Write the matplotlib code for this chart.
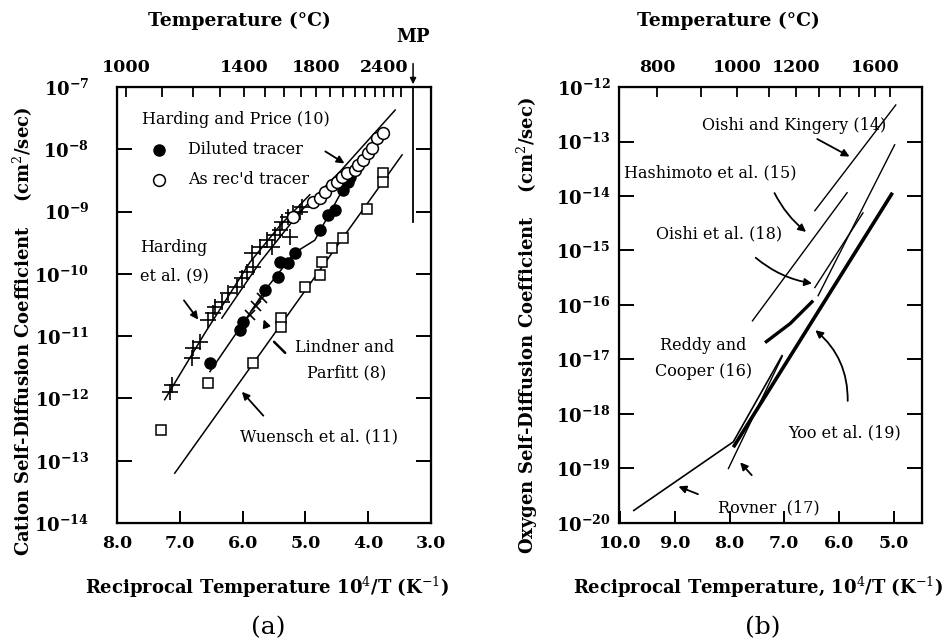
import numpy as np
import matplotlib
matplotlib.use('Agg')
import matplotlib.pyplot as plt
from matplotlib.ticker import NullLocator, FixedLocator, FixedFormatter

plt.rcParams['font.family'] = ['DejaVu Serif']
plt.rcParams['mathtext.fontset'] = 'dejavuserif'

# ---------------- Panel (a) data : x = 10^4/T (K^-1), log10 D (cm^2/s) -------------
h9_x = [7.16, 7.12, 6.81, 6.79, 6.68, 6.55, 6.47, 6.44, 6.33, 6.23, 6.09, 6.01, 5.93,
        5.83, 5.85, 5.72, 5.61, 5.53, 5.48, 5.40, 5.37, 5.28, 5.25, 5.20, 5.09, 5.05]
h9_logD = [-11.90, -11.78, -11.35, -11.19, -11.09, -10.74, -10.63, -10.53, -10.45, -10.31,
           -10.21, -10.07, -9.97, -9.89, -9.66, -9.57, -9.46, -9.57, -9.38, -9.30, -9.17,
           -9.09, -9.41, -9.02, -9.01, -8.93]
dil_x = [6.52, 6.04, 5.99, 5.64, 5.44, 5.40, 5.28, 5.17, 4.77, 4.64, 4.53, 4.40, 4.32, 4.29, 4.08]
dil_logD = [-11.43, -10.90, -10.77, -10.26, -10.05, -9.81, -9.83, -9.66, -9.30, -9.05,
            -8.97, -8.65, -8.52, -8.44, -8.17]
asr_x = [5.20, 4.88, 4.77, 4.69, 4.58, 4.50, 4.42, 4.34, 4.21, 4.16, 4.08, 4.00, 3.94, 3.86, 3.76]
asr_logD = [-9.09, -8.85, -8.78, -8.69, -8.57, -8.52, -8.44, -8.38, -8.33, -8.25, -8.17,
            -8.06, -7.98, -7.82, -7.74]
wu_x = [7.30, 6.55, 5.83, 5.39, 5.39, 5.01, 4.77, 4.74, 4.58, 4.40, 4.02, 3.76, 3.76]
wu_logD = [-12.51, -11.75, -11.43, -10.71, -10.85, -10.21, -10.02, -9.81, -9.58, -9.42,
           -8.96, -8.38, -8.52]
lp_x = [5.88, 5.79, 5.69]
lp_logD = [-10.66, -10.52, -10.39]

h9_line_x = [7.24, 6.60, 5.88, 5.40, 4.93]
h9_line_logD = [-12.02, -10.95, -9.81, -9.22, -8.73]
asr_line_x = [6.33, 5.72, 5.09, 4.45, 3.57]
asr_line_logD = [-10.71, -9.81, -9.01, -8.36, -7.37]
dil_line_x = [6.52, 5.99, 5.64, 5.17, 4.85, 4.45, 4.05]
dil_line_logD = [-11.57, -10.79, -10.26, -9.66, -9.46, -8.73, -8.04]
wu_line_x = [7.08, 3.46]
wu_line_logD = [-13.20, -8.09]
mp_x = 3.29
mp_logD = [-7.0, -9.17]

xa_ticks = [8.0, 7.0, 6.0, 5.0, 4.0, 3.0]
ya_exp = [-7, -8, -9, -10, -11, -12, -13, -14]
ta_ticks_C = [1000, 1100, 1200, 1300, 1400, 1500, 1600, 1700, 1800, 1900, 2000,
              2100, 2200, 2300, 2400, 2500, 2600]
ta_labels_C = [1000, 1400, 1800, 2400]

# ---------------- Panel (b) data -------------
ok_x = [6.44, 4.96]
ok_logD = [-14.27, -12.33]
hash_x = [7.58, 5.85]
hash_logD = [-16.29, -13.94]
o18_x = [6.44, 5.56]
o18_logD = [-15.68, -14.31]
rc_hi_x = [6.38, 4.98]
rc_hi_logD = [-15.83, -13.06]
rc_x = [7.35, 6.89, 6.47]
rc_logD = [-16.69, -16.34, -15.92]
yoo_x = [7.93, 5.02]
yoo_logD = [-18.61, -13.94]
rov_x = [9.75, 7.93, 7.04]
rov_logD = [-19.77, -18.51, -16.93]
rov2_x = [8.02, 7.04]
rov2_logD = [-19.00, -16.95]

xb_ticks = [10.0, 9.0, 8.0, 7.0, 6.0, 5.0]
yb_exp = [-12, -13, -14, -15, -16, -17, -18, -19, -20]
tb_ticks_C = [800, 900, 1000, 1100, 1200, 1300, 1400, 1500, 1600, 1700]
tb_labels_C = [800, 1000, 1200, 1600]


def D(v):
    return 10.0 ** np.asarray(v, dtype=float)


def recip(tc):
    return 1e4 / (np.asarray(tc, dtype=float) + 273.15)


fig = plt.figure(figsize=(9.48, 6.44), dpi=100)
TF = 12.5   # tick font
AF = 11.5   # annotation font


def style_axes(ax, xticks, yexp, xlim, ylab_pad):
    ax.set_yscale('log')
    ax.set_xlim(*xlim)
    ax.set_ylim(10.0 ** min(yexp), 10.0 ** max(yexp))
    ax.xaxis.set_major_locator(FixedLocator(xticks))
    ax.xaxis.set_major_formatter(FixedFormatter(['%.1f' % v for v in xticks]))
    ax.xaxis.set_minor_locator(NullLocator())
    ax.yaxis.set_major_locator(FixedLocator([10.0 ** e for e in yexp]))
    ax.yaxis.set_major_formatter(FixedFormatter([r'$\mathbf{10^{%d}}$' % e for e in yexp]))
    ax.yaxis.set_minor_locator(NullLocator())
    ax.tick_params(axis='both', direction='in', width=1.4, labelsize=TF)
    ax.tick_params(axis='x', length=9, pad=9, bottom=True, top=False)
    ax.tick_params(axis='y', length=11, pad=ylab_pad, left=True, right=True,
                   labelsize=TF + 0.5)
    for lab in ax.get_xticklabels() + ax.get_yticklabels():
        lab.set_fontweight('bold')
    for s in ax.spines.values():
        s.set_linewidth(1.6)


def top_axis(ax, ticks_C, labels_C):
    ax2 = ax.twiny()
    ax2.set_xlim(ax.get_xlim())
    ax2.xaxis.set_major_locator(FixedLocator(recip(ticks_C)))
    ax2.xaxis.set_major_formatter(FixedFormatter(
        [str(t) if t in labels_C else '' for t in ticks_C]))
    ax2.xaxis.set_minor_locator(NullLocator())
    ax2.tick_params(axis='x', direction='in', length=7, width=1.3, pad=8, labelsize=TF)
    for lab in ax2.get_xticklabels():
        lab.set_fontweight('bold')
    return ax2


# =========================== Panel (a) ===========================
axa = fig.add_axes([0.1234, 0.1879, 0.3312, 0.6770])
style_axes(axa, xa_ticks, ya_exp, (8.0, 3.0), 20)
top_axis(axa, ta_ticks_C, ta_labels_C)

lw = 1.1
axa.plot(h9_line_x, D(h9_line_logD), color='black', lw=lw, zorder=2)
axa.plot(asr_line_x, D(asr_line_logD), color='black', lw=lw, zorder=2)
axa.plot(dil_line_x, D(dil_line_logD), color='black', lw=lw, zorder=2)
axa.plot(wu_line_x, D(wu_line_logD), color='black', lw=lw, zorder=2)
axa.plot([mp_x, mp_x], D(mp_logD), color='black', lw=1.3, zorder=2)

axa.plot(h9_x, D(h9_logD), ls='none', marker='+', ms=11, mew=1.2, color='black', zorder=3)
axa.plot(lp_x, D(lp_logD), ls='none', marker='x', ms=7, mew=1.2, color='black', zorder=3)
axa.plot(dil_x, D(dil_logD), ls='none', marker='o', ms=8, color='black', zorder=4)
axa.plot(asr_x, D(asr_logD), ls='none', marker='o', ms=8.5, mew=1.1, mfc='white',
         mec='black', zorder=4)
axa.plot(wu_x, D(wu_logD), ls='none', marker='s', ms=7.5, mew=1.1, mfc='white',
         mec='black', zorder=4)

# legend block (Harding and Price)
axa.text(0.08, 0.925, 'Harding and Price (10)', transform=axa.transAxes, fontsize=AF,
         va='center', ha='left')
axa.plot([0.133], [0.856], transform=axa.transAxes, marker='o', ms=8, color='black',
         ls='none', clip_on=False)
axa.text(0.225, 0.856, 'Diluted tracer', transform=axa.transAxes, fontsize=AF,
         va='center', ha='left')
axa.plot([0.133], [0.787], transform=axa.transAxes, marker='o', ms=8.5, mfc='white',
         mec='black', mew=1.1, ls='none', clip_on=False)
axa.text(0.225, 0.787, "As rec'd tracer", transform=axa.transAxes, fontsize=AF,
         va='center', ha='left')

axa.text(7.63, D(-9.58), 'Harding', fontsize=AF, va='center', ha='left')
axa.text(7.63, D(-10.03), 'et al. (9)', fontsize=AF, va='center', ha='left')
axa.text(5.17, D(-11.19), 'Lindner and', fontsize=AF, va='center', ha='left')
axa.text(4.34, D(-11.59), 'Parfitt (8)', fontsize=AF, va='center', ha='center')
axa.text(6.04, D(-12.62), 'Wuensch et al. (11)', fontsize=AF, va='center', ha='left')

ap = dict(arrowstyle='-|>', color='black', lw=1.3, mutation_scale=11)
axa.annotate('', xy=(6.68, D(-10.77)), xytext=(6.96, D(-10.39)), arrowprops=ap)
axa.annotate('', xy=(4.34, D(-8.25)), xytext=(4.72, D(-8.01)), arrowprops=ap)
axa.annotate('', xy=(5.53, D(-11.06)), xytext=(5.29, D(-11.30)),
             arrowprops=dict(arrowstyle='-', color='black', lw=1.8))
axa.annotate('', xy=(5.68, D(-10.69)), xytext=(5.60, D(-10.90)), arrowprops=ap)
axa.annotate('', xy=(6.04, D(-11.86)), xytext=(5.64, D(-12.31)), arrowprops=ap)

# MP marker
axa.annotate('', xy=(0.943, 1.0), xytext=(0.943, 1.06), xycoords='axes fraction',
             textcoords='axes fraction', arrowprops=dict(arrowstyle='-|>', color='black',
                                                         lw=1.1, mutation_scale=9))
axa.text(0.943, 1.115, 'MP', transform=axa.transAxes, fontsize=13, fontweight='bold',
         ha='center', va='center')

fig.text(0.253, 0.968, 'Temperature (°C)', fontsize=13.5, fontweight='bold',
         ha='center', va='center')
fig.text(0.024, 0.485, 'Cation Self-Diffusion Coefficient    (cm$^2$/sec)', fontsize=13,
         fontweight='bold', rotation=90, ha='center', va='center')
fig.text(0.282, 0.088, 'Reciprocal Temperature 10$^4$/T (K$^{-1}$)', fontsize=13,
         fontweight='bold', ha='center', va='center')
fig.text(0.283, 0.025, '(a)', fontsize=18, ha='center', va='center')

# =========================== Panel (b) ===========================
axb = fig.add_axes([0.6530, 0.1879, 0.3196, 0.6770])
style_axes(axb, xb_ticks, yb_exp, (10.02, 4.48), 6)
top_axis(axb, tb_ticks_C, tb_labels_C)

axb.plot(ok_x, D(ok_logD), color='black', lw=1.0)
axb.plot(hash_x, D(hash_logD), color='black', lw=1.0)
axb.plot(o18_x, D(o18_logD), color='black', lw=1.0)
axb.plot(rc_hi_x, D(rc_hi_logD), color='black', lw=1.0)
axb.plot(rc_x, D(rc_logD), color='black', lw=2.4, solid_capstyle='butt')
axb.plot(yoo_x, D(yoo_logD), color='black', lw=2.6, solid_capstyle='butt')
axb.plot(rov_x, D(rov_logD), color='black', lw=1.2)
axb.plot(rov2_x, D(rov2_logD), color='black', lw=1.0)

axb.text(6.82, D(-12.70), 'Oishi and Kingery (14)', fontsize=AF, ha='center', va='center')
axb.text(8.35, D(-13.58), 'Hashimoto et al. (15)', fontsize=AF, ha='center', va='center')
axb.text(8.20, D(-14.70), 'Oishi et al. (18)', fontsize=AF, ha='center', va='center')
axb.text(8.48, D(-16.75), 'Reddy and', fontsize=AF, ha='center', va='center')
axb.text(8.48, D(-17.22), 'Cooper (16)', fontsize=AF, ha='center', va='center')
axb.text(5.89, D(-18.35), 'Yoo et al. (19)', fontsize=AF, ha='center', va='center')
axb.text(7.29, D(-19.72), 'Rovner  (17)', fontsize=AF, ha='center', va='center')

axb.annotate('', xy=(5.76, D(-13.30)), xytext=(6.44, D(-12.93)), arrowprops=ap)
axb.annotate('', xy=(6.56, D(-14.69)), xytext=(7.20, D(-13.90)),
             arrowprops=dict(ap, connectionstyle='arc3,rad=0.12'))
axb.annotate('', xy=(6.44, D(-15.61)), xytext=(7.56, D(-15.10)),
             arrowprops=dict(ap, connectionstyle='arc3,rad=0.15'))
axb.annotate('', xy=(6.47, D(-16.43)), xytext=(5.84, D(-17.81)),
             arrowprops=dict(ap, connectionstyle='arc3,rad=0.25'))
axb.annotate('', xy=(8.98, D(-19.31)), xytext=(8.53, D(-19.49)), arrowprops=ap)
axb.annotate('', xy=(7.84, D(-18.85)), xytext=(7.56, D(-19.16)), arrowprops=ap)

fig.text(0.768, 0.968, 'Temperature (°C)', fontsize=13.5, fontweight='bold',
         ha='center', va='center')
fig.text(0.556, 0.495, 'Oxygen Self-Diffusion Coefficient    (cm$^2$/sec)', fontsize=13,
         fontweight='bold', rotation=90, ha='center', va='center')
fig.text(0.80, 0.088, 'Reciprocal Temperature, 10$^4$/T (K$^{-1}$)', fontsize=13,
         fontweight='bold', ha='center', va='center')
fig.text(0.805, 0.025, '(b)', fontsize=18, ha='center', va='center')

fig.savefig('out.png', dpi=100)
